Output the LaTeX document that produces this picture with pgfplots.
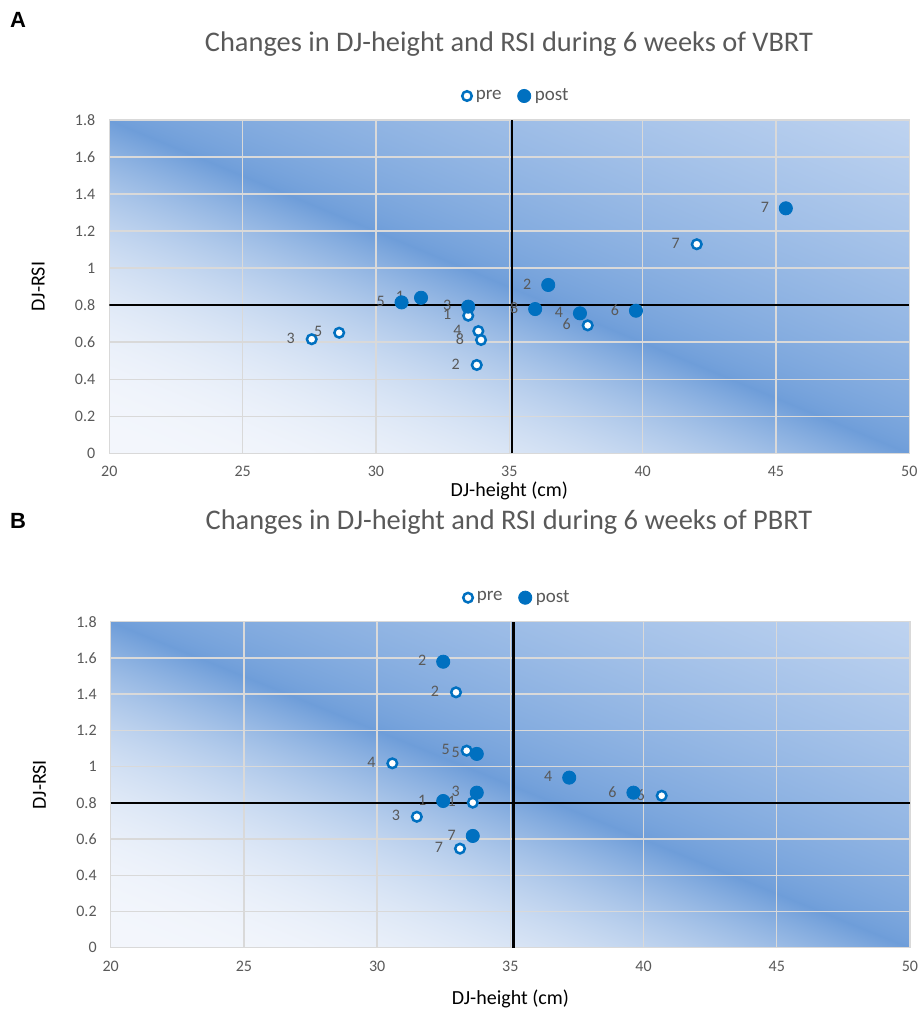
\documentclass[border=0pt]{standalone}
\usepackage{fontspec}
\setmainfont{Carlito}
\newfontfamily\panelfont{Liberation Sans}
\usepackage{pgfplots}
\pgfplotsset{compat=1.18}
\definecolor{mkblue}{HTML}{0070C0}
\definecolor{txtgray}{HTML}{595959}
\definecolor{gridgray}{HTML}{D9D9D9}
% excel-like fill: bands parallel to the top-left/bottom-right diagonal,
% light at bottom left, dark on the diagonal, pale blue at top right
\pgfdeclarefunctionalshading{excelbg}{\pgfpoint{0bp}{0bp}}{\pgfpoint{100bp}{100bp}}{}{
  add 50 sub 100 div
  dup 0 lt {pop 0} if
  dup 1 gt {pop 1} if
  dup 0.5 lt
  { 2 mul 2.4 exp
    dup dup -0.522 mul 0.953 add 3 1 roll
    -0.349 mul 0.965 add exch
    -0.137 mul 0.988 add }
  { 0.5 sub 2 mul 0.75 exp
    dup dup 0.314 mul 0.431 add 3 1 roll
    0.211 mul 0.616 add exch
    0.090 mul 0.851 add }
  ifelse
}

\pgfplotsset{
  rsiaxis/.style={
    scale only axis,
    anchor=south west,
    xmin=20, xmax=50, ymin=0, ymax=1.8,
    xtick={20,25,30,35,40,45,50},
    ytick={0,0.2,0.4,0.6,0.8,1,1.2,1.4,1.6,1.8},
    grid=major,
    major grid style={draw=gridgray, line width=0.7pt},
    axis line style={draw=gridgray, line width=0.7pt},
    major tick length=0pt,
    /pgf/number format/assume math mode=true,
    ticklabel style={font=\fontsize{8}{9}\selectfont, text=txtgray},
    xticklabel style={yshift=-3pt},
    yticklabel style={xshift=-3.5pt},
    axis background/.style={shade, shading=excelbg},
    label style={font=\fontsize{13.5}{15}\selectfont, text=txtgray},
    xlabel={DJ-height (cm)},
    ylabel={DJ-RSI},
    every axis y label/.style={at={(axis description cs:-0.089,0.5)}, rotate=90, anchor=center},
    legend columns=2,
    legend style={draw=none, fill=none, at={(0.51,1)}, anchor=center, yshift=12pt,
      font=\fontsize{9.5}{11}\selectfont, text=txtgray,
      /tikz/every even column/.append style={column sep=6pt}},
  },
  labelled/.style={
    only marks,
    nodes near coords,
    point meta=explicit symbolic,
    every node near coord/.append style={anchor=center, xshift=-10.5pt, yshift=0.5pt,
      font=\fontsize{8}{9}\selectfont, text=txtgray, inner sep=0pt},
  },
  preser/.style={labelled, mark=*, mark size=2.4pt,
    mark options={draw=mkblue, fill=white, line width=1.25pt}},
  postser/.style={labelled, mark=*, mark size=3.3pt,
    mark options={draw=mkblue, fill=mkblue}},
  refline/.style={black, line width=1.3pt, forget plot},
}

\begin{document}
\begin{tikzpicture}
\useasboundingbox (0,0) rectangle (461pt,507pt);

\node[font=\panelfont\bfseries\fontsize{11}{13}\selectfont] at (9pt,497pt) {A};
\node[font=\fontsize{14.2}{16}\selectfont, text=txtgray] at (254.5pt,485pt)
  {Changes in DJ-height and RSI during 6 weeks of VBRT};

\begin{axis}[rsiaxis,
  at={(54.65pt,280.35pt)}, width=400pt, height=166.65pt,
  every axis x label/.style={at={(axis description cs:0.5,-0.112)}, anchor=center}]
\addplot[refline] coordinates {(35.1,0) (35.1,1.8)};
\addplot[refline] coordinates {(20,0.8) (50,0.8)};
\addplot[preser] coordinates {
  (33.46,0.743) [1]
  (33.78,0.477) [2]
  (27.59,0.616) [3]
  (33.84,0.660) [4]
  (28.62,0.651) [5]
  (37.94,0.691) [6]
  (42.03,1.129) [7]
  (33.94,0.612) [8]
};
\addlegendentry{pre}
\addplot[postser] coordinates {
  (31.69,0.840) [1]
  (36.46,0.909) [2]
  (33.46,0.792) [3]
  (37.65,0.756) [4]
  (30.96,0.815) [5]
  (39.75,0.770) [6]
  (45.37,1.323) [7]
  (35.97,0.779) [8]
};
\addlegendentry{post}
\end{axis}

\node[font=\panelfont\bfseries\fontsize{11}{13}\selectfont] at (9pt,246.5pt) {B};
\node[font=\fontsize{14.2}{16}\selectfont, text=txtgray] at (254.5pt,246pt)
  {Changes in DJ-height and RSI during 6 weeks of PBRT};

\begin{axis}[rsiaxis,
  at={(55.35pt,33.15pt)}, width=399.65pt, height=163pt,
  every axis x label/.style={at={(axis description cs:0.5,-0.156)}, anchor=center}]
\addplot[refline] coordinates {(35.11,0) (35.11,1.8)};
\addplot[refline] coordinates {(20,0.8) (50,0.8)};
\addplot[preser] coordinates {
  (33.59,0.801) [1]
  (32.96,1.410) [2]
  (31.49,0.723) [3]
  (30.57,1.018) [4]
  (33.36,1.088) [5]
  (40.68,0.839) [6]
  (33.11,0.547) [7]
};
\addlegendentry{pre}
\addplot[postser] coordinates {
  (32.48,0.810) [1]
  (32.48,1.579) [2]
  (33.74,0.856) [3]
  (37.21,0.939) [4]
  (33.74,1.070) [5]
  (39.62,0.856) [6]
  (33.59,0.617) [7]
};
\addlegendentry{post}
\end{axis}
\end{tikzpicture}
\end{document}
